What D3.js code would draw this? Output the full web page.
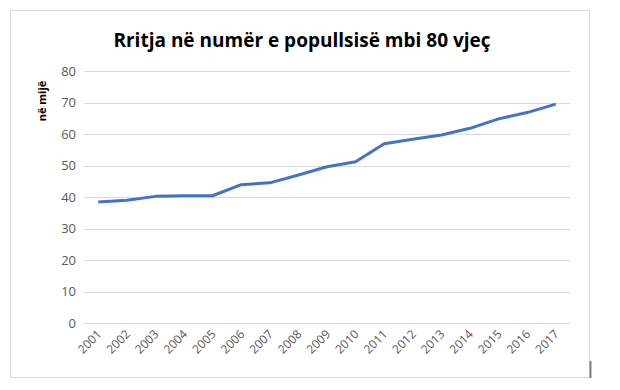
<!DOCTYPE html>
<html>
<head>
<meta charset="utf-8">
<script src="https://cdn.jsdelivr.net/npm/d3@7"></script>
<style>
  body { margin: 0; background: #fff; }
  text { font-family: "Open Sans", "Liberation Sans", sans-serif; }
</style>
</head>
<body>
<div id="chart"></div>
<script>
// data
const years = ["2001", "2002", "2003", "2004", "2005", "2006", "2007", "2008", "2009",
  "2010", "2011", "2012", "2013", "2014", "2015", "2016", "2017"];
const population = [38.4, 39.0, 40.2, 40.4, 40.4, 43.9, 44.5, 47.0, 49.6,
  51.2, 56.9, 58.3, 59.7, 61.8, 64.8, 66.8, 69.5];
const yTicks = [0, 10, 20, 30, 40, 50, 60, 70, 80];

const width = 620, height = 390;
const margin = { left: 84, right: 50, top: 71, bottom: 67 };

let svg = d3.select("#chart").append("svg")
  .attr("width", width)
  .attr("height", height);

// outer chart frame
svg.append("rect")
  .attr("x", 10.5).attr("y", 10.5)
  .attr("width", 579).attr("height", 367)
  .attr("fill", "#fff")
  .attr("stroke", "#d9d9d9");

svg.append("line")
  .attr("x1", 590.5).attr("x2", 590.5)
  .attr("y1", 361).attr("y2", 378)
  .attr("stroke", "#7f7f7f")
  .attr("stroke-width", 2);

let x = d3.scaleBand()
  .domain(years)
  .range([margin.left, width - margin.right]);

let y = d3.scaleLinear()
  .domain([0, 80])
  .range([height - margin.bottom, margin.top]);

// gridlines
svg.append("g")
  .selectAll("line")
  .data(yTicks)
  .enter()
  .append("line")
  .attr("x1", margin.left)
  .attr("x2", width - margin.right)
  .attr("y1", d => Math.round(y(d)) + 0.5)
  .attr("y2", d => Math.round(y(d)) + 0.5)
  .attr("stroke", "#d9d9d9")
  .attr("stroke-width", 1);

// y axis labels
let yAxis = svg.append("g")
  .attr("transform", "translate(" + (margin.left - 8) + ",0)")
  .call(d3.axisLeft(y).tickValues(yTicks).tickSize(0).tickPadding(0));
yAxis.select(".domain").remove();
yAxis.selectAll("text")
  .style("font-size", "13px")
  .style("fill", "#595959");

// x axis labels
let xAxis = svg.append("g")
  .attr("transform", "translate(0," + (height - margin.bottom) + ")")
  .call(d3.axisBottom(x).tickSize(0).tickPadding(0));
xAxis.select(".domain").remove();
xAxis.selectAll("text")
  .attr("text-anchor", "end")
  .attr("dy", "0")
  .attr("transform", "translate(4,12) rotate(-45)")
  .style("font-size", "12px")
  .style("fill", "#595959");

// line
let line = d3.line()
  .x((d, i) => x(years[i]) + x.bandwidth() / 2)
  .y(d => y(d));

svg.append("path")
  .datum(population)
  .attr("d", line)
  .attr("fill", "none")
  .attr("stroke", "#4472c4")
  .attr("stroke-width", 3)
  .attr("stroke-linejoin", "round");

// title
svg.append("text")
  .attr("x", 302)
  .attr("y", 47)
  .attr("text-anchor", "middle")
  .style("font-size", "19px")
  .style("font-weight", "bold")
  .style("fill", "#000")
  .text("Rritja në numër e popullsisë mbi 80 vjeç");

// y axis title
svg.append("text")
  .attr("transform", "translate(46,101) rotate(-90)")
  .attr("text-anchor", "middle")
  .style("font-size", "11px")
  .style("font-weight", "bold")
  .style("fill", "#000")
  .text("në mijë");
</script>
</body>
</html>
